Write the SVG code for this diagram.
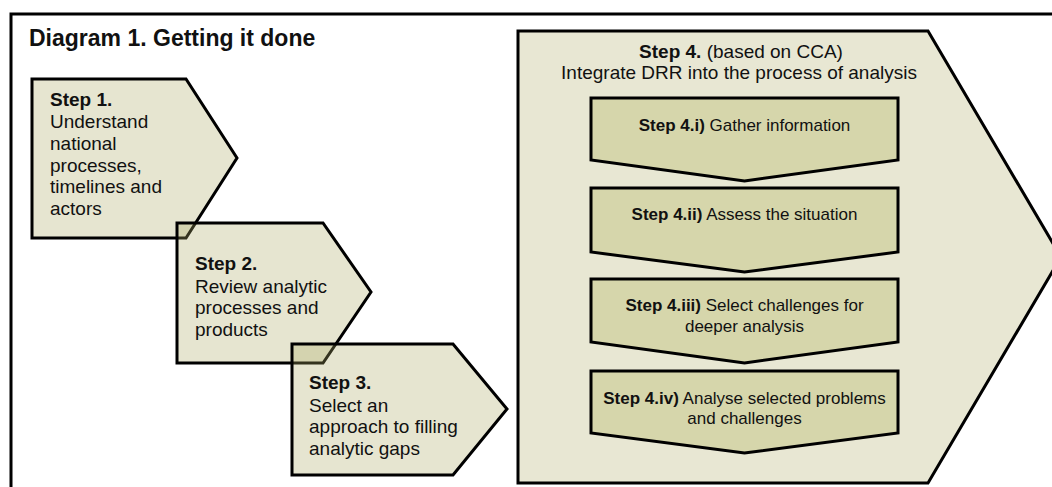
<svg xmlns="http://www.w3.org/2000/svg" width="1052" height="487" viewBox="0 0 1052 487">
<style>
text{font-family:"Liberation Sans",Arial,sans-serif;fill:#111}
.b{font-weight:bold}
.step{fill:#aca862;fill-opacity:0.3;stroke:#000;stroke-width:3;stroke-linejoin:miter}
.big{fill:#e8e7d3;stroke:#000;stroke-width:3}
.sub{fill:#d6d6ab;stroke:#000;stroke-width:3}
.t19{font-size:19px}
.t17{font-size:17px}
</style>
<rect width="1052" height="487" fill="#fff"/>
<path d="M11,487 V14 H1052" fill="none" stroke="#000" stroke-width="3"/>
<text x="29" y="46" class="b" font-size="23">Diagram 1. Getting it done</text>
<g id="connectors"></g>
<g id="step4">
<polygon class="big" points="518,31 928,31 1061,257 928,483 518,483"/>
<text x="741" y="58" class="t19" text-anchor="middle"><tspan class="b">Step 4.</tspan> (based on CCA)</text>
<text x="739" y="79" class="t19" text-anchor="middle">Integrate DRR into the process of analysis</text>
</g>
<g id="step4i">
<polygon class="sub" points="591,98 898,98 898,160 744.5,181 591,160"/>
<text x="744.5" y="131" class="t17" text-anchor="middle"><tspan class="b">Step 4.i)</tspan> Gather information</text>
</g>
<g id="step4ii">
<polygon class="sub" points="591,188 898,188 898,252 744.5,272 591,252"/>
<text x="744.5" y="220" class="t17" text-anchor="middle"><tspan class="b">Step 4.ii)</tspan> Assess the situation</text>
</g>
<g id="step4iii">
<polygon class="sub" points="591,279 898,279 898,342 744.5,363 591,342"/>
<text x="744.5" y="311" class="t17" text-anchor="middle"><tspan class="b">Step 4.iii)</tspan> Select challenges for</text>
<text x="744.5" y="332" class="t17" text-anchor="middle">deeper analysis</text>
</g>
<g id="step4iv">
<polygon class="sub" points="591,371 898,371 898,433 744.5,453 591,433"/>
<text x="744.5" y="404" class="t17" text-anchor="middle"><tspan class="b">Step 4.iv)</tspan> Analyse selected problems</text>
<text x="744.5" y="424" class="t17" text-anchor="middle">and challenges</text>
</g>
<g id="step1">
<polygon class="step" points="32,79 186,79 237,158 186,238 32,238"/>
<text x="50" class="t19"><tspan x="50" y="106" class="b">Step 1.</tspan><tspan x="50" y="128">Understand</tspan><tspan x="50" y="150">national</tspan><tspan x="50" y="172">processes,</tspan><tspan x="50" y="193">timelines and</tspan><tspan x="50" y="215">actors</tspan></text>
</g>
<g id="step2">
<polygon class="step" points="177,223 323,223 371,292 323,363 177,363"/>
<text class="t19"><tspan x="195" y="270" class="b">Step 2.</tspan><tspan x="195" y="293">Review analytic</tspan><tspan x="195" y="314">processes and</tspan><tspan x="195" y="336">products</tspan></text>
</g>
<g id="step3">
<polygon class="step" points="292,344 453,344 507,409 453,475 292,475"/>
<text class="t19"><tspan x="309" y="389" class="b">Step 3.</tspan><tspan x="309" y="412">Select an</tspan><tspan x="309" y="433">approach to filling</tspan><tspan x="309" y="455">analytic gaps</tspan></text>
</g>
</svg>
